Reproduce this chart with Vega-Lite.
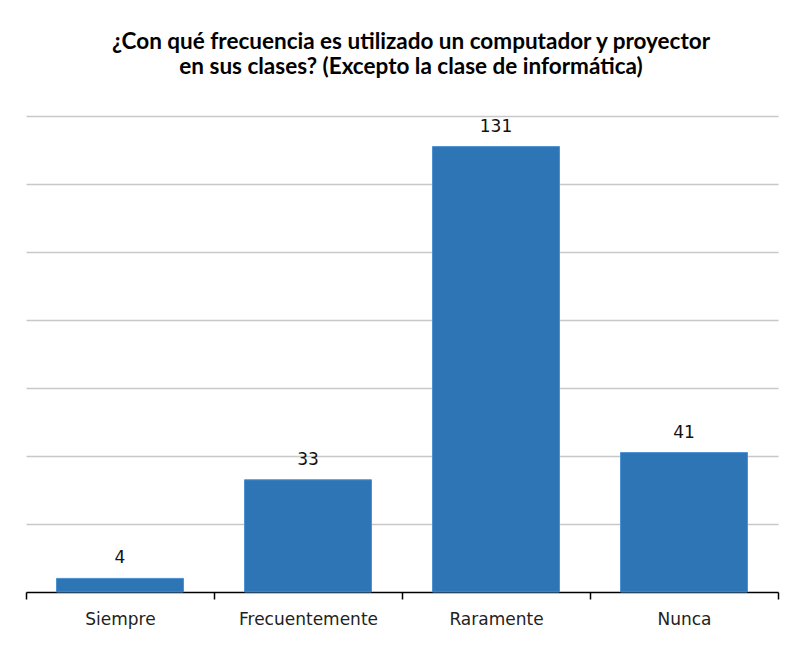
{
  "$schema": "https://vega.github.io/schema/vega-lite/v6.json",
  "width": 752,
  "height": 476,
  "autosize": {"type": "none"},
  "padding": {"left": 26, "top": 116, "right": 21, "bottom": 71},
  "background": "white",
  "title": {
    "text": ["¿Con qué frecuencia es utilizado un computador y proyector", "en sus clases? (Excepto la clase de informática)"],
    "font": "Lato",
    "fontSize": 22.5,
    "fontWeight": "bold",
    "color": "#000000",
    "anchor": "middle",
    "dx": 9,
    "offset": 38,
    "lineHeight": 25
  },
  "data": {
    "values": [
      {"respuesta": "Siempre", "n": 4},
      {"respuesta": "Frecuentemente", "n": 33},
      {"respuesta": "Raramente", "n": 131},
      {"respuesta": "Nunca", "n": 41}
    ]
  },
  "encoding": {
    "x": {
      "field": "respuesta",
      "type": "nominal",
      "sort": null,
      "scale": {"paddingInner": 0, "paddingOuter": 0},
      "axis": {
        "title": null,
        "labelAngle": 0,
        "labelFont": "DejaVu Sans",
        "labelFontSize": 17,
        "labelColor": "#222222",
        "labelPadding": 12,
        "domainColor": "#000000",
        "domainWidth": 1.5,
        "tickColor": "#000000",
        "tickSize": 7,
        "tickWidth": 1.5,
        "tickBand": "extent",
        "grid": false
      }
    },
    "y": {
      "field": "n",
      "type": "quantitative",
      "scale": {"domain": [0, 140], "nice": false},
      "axis": {
        "title": null,
        "labels": false,
        "ticks": false,
        "domain": false,
        "values": [20, 40, 60, 80, 100, 120, 140],
        "grid": true,
        "gridColor": "#c8c8c8",
        "gridWidth": 1.5
      }
    }
  },
  "layer": [
    {
      "mark": {"type": "bar", "width": {"band": 0.675}, "color": "#2E75B6", "stroke": "#4A8FD2", "strokeWidth": 1}
    },
    {
      "mark": {"type": "text", "baseline": "bottom", "dy": -11, "font": "DejaVu Sans", "fontSize": 17, "color": "#111111"},
      "encoding": {"text": {"field": "n", "type": "quantitative"}}
    }
  ],
  "config": {
    "view": {"stroke": null}
  }
}
